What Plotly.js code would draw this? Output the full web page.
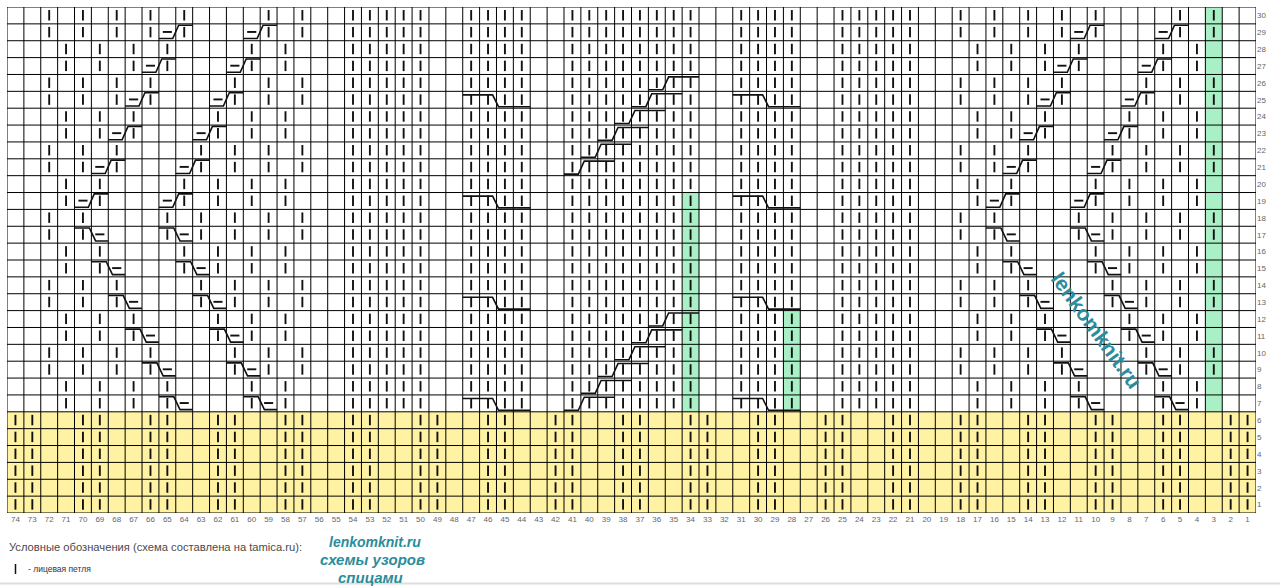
<!DOCTYPE html>
<html>
<head>
<meta charset="utf-8">
<script src="https://cdn.plot.ly/plotly-3.0.1.min.js"></script>
<style>
  html, body { margin: 0; padding: 0; background: #fff; }
  #chart { width: 1280px; height: 586px; }
</style>
</head>
<body>
<div id="chart"></div>
<script>

// номера столбцов (слева направо) и рядов
const colLabels = [74,73,72,71,70,69,68,67,66,65,64,63,62,61,60,59,58,57,56,55,54,53,52,51,50,
  49,48,47,46,45,44,43,42,41,40,39,38,37,36,35,34,33,32,31,30,29,28,27,26,25,
  24,23,22,21,20,19,18,17,16,15,14,13,12,11,10,9,8,7,6,5,4,3,2,1];
const rowLabels = [1,2,3,4,5,6,7,8,9,10,11,12,13,14,15,16,17,18,19,20,21,22,23,24,25,26,27,28,29,30];

// '.' изнаночная, '|' лицевая, '-' черточка, R/L перекрест 2 п., C перекрест 4 п., D перекрест 3 п.
// раппорт-ромб: столбцы 74..57 и 20..3, ряды 30 -> 7
const motifRows = [
  "..|.|.|.|.|....|.|", // 30
  "..|.|.|.|R|...R|.|", // 29
  "...|.|.|.|....|.|.", // 28
  "...|.|.|R|...R|.|.", // 27
  "..|.|.|.|....|.|.|", // 26
  "..|.|.|R|...R|.|.|", // 25
  "...|.|.|....|.|.|.", // 24
  "...|.|R|...R|.|.|.", // 23
  "..|.|.|....|.|.|.|", // 22
  "..|.|R|...R|.|.|.|", // 21
  "...|.|....|.|.|.|.", // 20
  "...|R|...R|.|.|.|.", // 19
  "..|.|....|.|.|.|.|", // 18
  "..|.L-...L-|.|.|.|", // 17
  "...|.|....|.|.|.|.", // 16
  "...|.L-...L-|.|.|.", // 15
  "..|.|.|....|.|.|.|", // 14
  "..|.|.L-...L-|.|.|", // 13
  "...|.|.|....|.|.|.", // 12
  "...|.|.L-...L-|.|.", // 11
  "..|.|.|.|....|.|.|", // 10
  "..|.|.|.L-...L-|.|", // 9
  "...|.|.|.|....|.|.", // 8
  "...|.|.|.L-...L-|."  // 7
];

// середина: столбцы 56..21, ряды 30 -> 7
const centerRows = [
  "..|||||..||||..||||||||..||||..|||||", // 30
  "..|||||..||||..||||||||..||||..|||||", // 29
  "..|||||..||||..||||||||..||||..|||||", // 28
  "..|||||..||||..||||||||..||||..|||||", // 27
  "..|||||..||||..|||||D||..||||..|||||", // 26
  "..|||||..C|||..||||D|||..C|||..|||||", // 25
  "..|||||..||||..|||D||||..||||..|||||", // 24
  "..|||||..||||..||D|||||..||||..|||||", // 23
  "..|||||..||||..|D||||||..||||..|||||", // 22
  "..|||||..||||..D|||||||..||||..|||||", // 21
  "..|||||..||||..||||||||..||||..|||||", // 20
  "..|||||..C|||..||||||||..C|||..|||||", // 19
  "..|||||..||||..||||||||..||||..|||||", // 18
  "..|||||..||||..||||||||..||||..|||||", // 17
  "..|||||..||||..||||||||..||||..|||||", // 16
  "..|||||..||||..||||||||..||||..|||||", // 15
  "..|||||..||||..||||||||..||||..|||||", // 14
  "..|||||..C|||..||||||||..C|||..|||||", // 13
  "..|||||..||||..|||||D||..||||..|||||", // 12
  "..|||||..||||..||||D|||..||||..|||||", // 11
  "..|||||..||||..|||D||||..||||..|||||", // 10
  "..|||||..||||..||D|||||..||||..|||||", // 9
  "..|||||..||||..|D||||||..||||..|||||", // 8
  "..|||||..C|||..D|||||||..C|||..|||||"  // 7
];
const edgeCells = "..";   // столбцы 2..1

// резинка 2х2, ряды 6 -> 1
const ribRow = "||..||..||..||..||..||..||..||..||..||..||..||..||..||..||..||..||..||..||";
const ribRowNumbers = [6,5,4,3,2,1];

// подсвеченные столбцы
const greenCols = [34, 28, 3];
const greenFrom = [7, 7, 7];
const greenTo   = [19, 12, 30];

// полные ряды
const chartRows = [];
motifRows.forEach(function (m, i) {
  chartRows.push({ row: 30 - i, cells: m + centerRows[i] + m + edgeCells });
});
ribRowNumbers.forEach(function (r) { chartRows.push({ row: r, cells: ribRow }); });

// формы перекрестов (u - клетки слева направо, v - доля высоты ряда)
const cableShapes = {
  R: [[0, 0.13], [0.82, 0.13], [1.17, 0.92], [2, 0.92]],
  L: [[0, 0.9], [0.88, 0.9], [1.25, 0.13], [2, 0.13]],
  C: [[0, 0.79], [1.77, 0.79], [2.12, 0.09], [4, 0.09]],
  D: [[0, 0.09], [0.85, 0.09], [1.2, 0.86], [3, 0.86]]
};

const barX = [], barY = [], dashX = [], dashY = [], cabX = [], cabY = [];

function addBar(c, r) { barX.push(c, c, null); barY.push(r - 0.3, r + 0.32, null); }
function addDash(c, r) { dashX.push(c + 0.27, c - 0.27, null); dashY.push(r + 0.02, r + 0.02, null); }
function addCable(type, c, r) {
  cableShapes[type].forEach(function (p) {
    cabX.push(c + 0.5 - p[0]);
    cabY.push(r - 0.5 + p[1]);
  });
  cabX.push(null); cabY.push(null);
}

chartRows.forEach(function (rw) {
  for (let k = 0; k < rw.cells.length; k++) {
    const col = 74 - k;
    const ch = rw.cells[k];
    if (ch === '|') addBar(col, rw.row);
    else if (ch === '-') addDash(col, rw.row);
    else if (ch === 'R') { addDash(col, rw.row); addCable('R', col, rw.row); }
    else if (ch === 'L' || ch === 'C' || ch === 'D') { addBar(col, rw.row); addCable(ch, col, rw.row); }
  }
});

const data = [
  { x: barX, y: barY, mode: 'lines', line: { color: '#111', width: 1.9 }, hoverinfo: 'skip' },
  { x: dashX, y: dashY, mode: 'lines', line: { color: '#111', width: 1.9 }, hoverinfo: 'skip' },
  { x: cabX, y: cabY, mode: 'lines', line: { color: '#111', width: 1.6 }, hoverinfo: 'skip' }
];

// сетка
let gridPath = '';
for (let k = 0; k <= 74; k++) gridPath += 'M' + (k + 0.5) + ',0.5L' + (k + 0.5) + ',30.5';
for (let k = 0; k <= 30; k++) gridPath += 'M0.5,' + (k + 0.5) + 'L74.5,' + (k + 0.5);

const shapes = [
  { type: 'rect', xref: 'x', yref: 'y', x0: 74.5, x1: 0.5, y0: 0.5, y1: 6.5,
    fillcolor: '#fff3a3', line: { width: 0 }, layer: 'below' }
];
greenCols.forEach(function (c, i) {
  shapes.push({ type: 'rect', xref: 'x', yref: 'y', x0: c + 0.5, x1: c - 0.5,
    y0: greenFrom[i] - 0.5, y1: greenTo[i] + 0.5,
    fillcolor: '#a9f0c7', line: { width: 0 }, layer: 'below' });
});
shapes.push({ type: 'path', xref: 'x', yref: 'y', path: gridPath,
  line: { color: '#000', width: 1 }, layer: 'below' });

// пиксели -> доли области построения
const PL = 7, PW = 1249, PB = 513, PH = 506;
function px(v) { return (v - PL) / PW; }
function py(v) { return (PB - v) / PH; }

shapes.push({ type: 'line', xref: 'paper', yref: 'paper', x0: px(0), x1: px(1280),
  y0: py(583.5), y1: py(583.5), line: { color: '#dedede', width: 2 } });
shapes.push({ type: 'line', xref: 'paper', yref: 'paper', x0: px(15.5), x1: px(15.5),
  y0: py(564), y1: py(574), line: { color: '#111', width: 1.5 } });

const teal = '#2b8c9b';
const annotations = [
  { text: 'Условные обозначения (схема составлена на tamica.ru):', xref: 'paper', yref: 'paper',
    x: px(7), y: py(547), xanchor: 'left', yanchor: 'middle', showarrow: false,
    font: { family: 'Liberation Sans, Arial, sans-serif', size: 11.2, color: '#4a4a4a' } },
  { text: '- лицевая петля', xref: 'paper', yref: 'paper',
    x: px(26), y: py(568.5), xanchor: 'left', yanchor: 'middle', showarrow: false,
    font: { family: 'Liberation Sans, Arial, sans-serif', size: 8.5, color: '#333' } },
  { text: '<b><i>lenkomknit.ru</i></b>', xref: 'paper', yref: 'paper',
    x: px(375), y: py(542), xanchor: 'center', yanchor: 'middle', showarrow: false,
    font: { family: 'Liberation Sans, Arial, sans-serif', size: 14, color: teal } },
  { text: '<b><i>схемы узоров</i></b>', xref: 'paper', yref: 'paper',
    x: px(372), y: py(559), xanchor: 'center', yanchor: 'middle', showarrow: false,
    font: { family: 'Liberation Sans, Arial, sans-serif', size: 15, color: teal } },
  { text: '<b><i>спицами</i></b>', xref: 'paper', yref: 'paper',
    x: px(370), y: py(577), xanchor: 'center', yanchor: 'middle', showarrow: false,
    font: { family: 'Liberation Sans, Arial, sans-serif', size: 15, color: teal } },
  { text: '<b>lenkomknit.ru</b>', xref: 'paper', yref: 'paper',
    x: px(1097), y: py(330), xanchor: 'center', yanchor: 'middle', showarrow: false,
    textangle: 54,
    font: { family: 'Liberation Sans, Arial, sans-serif', size: 21, color: teal } }
];

const tickFont = { family: 'Liberation Sans, Arial, sans-serif', size: 8, color: '#666' };

const layout = {
  width: 1280,
  height: 586,
  margin: { l: PL, r: 1280 - PL - PW, t: PB - PH, b: 586 - PB, pad: 0 },
  paper_bgcolor: '#fff',
  plot_bgcolor: '#fff',
  showlegend: false,
  xaxis: {
    range: [74.5, 0.5],
    tickmode: 'array', tickvals: colLabels, ticktext: colLabels.map(String),
    showgrid: false, zeroline: false, showline: false, ticks: '',
    tickfont: tickFont, fixedrange: true
  },
  yaxis: {
    range: [0.5, 30.5], side: 'right',
    tickmode: 'array', tickvals: rowLabels, ticktext: rowLabels.map(String),
    showgrid: false, zeroline: false, showline: false, ticks: '',
    tickfont: tickFont, fixedrange: true
  },
  shapes: shapes,
  annotations: annotations
};

const config = { staticPlot: true, displayModeBar: false };

Plotly.newPlot('chart', data, layout, config);

</script>
</body>
</html>
